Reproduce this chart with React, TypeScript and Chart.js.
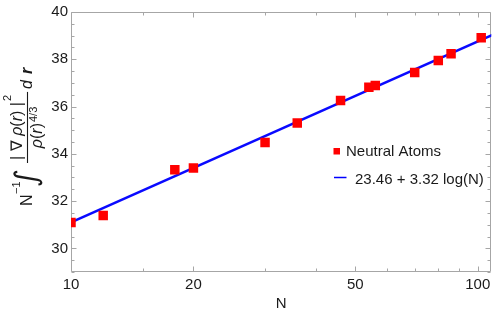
import React, { useEffect, useRef } from "react";
import { Chart, registerables } from "chart.js";
Chart.register(...registerables);

// Neutral atoms: particle number N and the measured integral value
const atomN = [10, 12, 18, 20, 30, 36, 46, 54, 56, 70, 80, 86, 102];
const atomValue = [31.09, 31.39, 33.33, 33.4, 34.48, 35.3, 36.26, 36.82, 36.89, 37.44, 37.95, 38.23, 38.91];

// Fit line 23.46 + 3.32 log(N) — endpoints (straight on a log axis)
const fitN = [10, 110];
const fitValue = [31.1, 39.07];

const xMajorTicks = [10, 20, 50, 100];
const xMinorTicks = [15, 30, 40, 60, 70, 80, 90];
const yMajorTicks = [30, 32, 34, 36, 38, 40];
const yMinorTicks = [29, 29.5, 30.5, 31, 31.5, 32.5, 33, 33.5, 34.5, 35, 35.5, 36.5, 37, 37.5, 38.5, 39, 39.5];

const legendLabels = ["Neutral Atoms", "23.46 + 3.32 log(N)"];

const FONT = '"Liberation Sans", Arial, Helvetica, sans-serif';
const TEXT = "#1a1a1a";
const FRAME = "#a6a6a6";

const framePlugin = {
  id: "frame",
  beforeDatasetsDraw(chart: any) {
    const ctx: CanvasRenderingContext2D = chart.ctx;
    const { left, right, top, bottom } = chart.chartArea;
    const xs = chart.scales.x;
    const ys = chart.scales.y;
    ctx.save();
    ctx.strokeStyle = FRAME;
    ctx.lineWidth = 1;
    const L = Math.round(left) + 0.5;
    const R = Math.round(right) - 0.5;
    const T = Math.round(top) + 0.5;
    const B = Math.round(bottom) - 0.5;
    ctx.beginPath();
    ctx.moveTo(L, T);
    ctx.lineTo(R, T);
    ctx.lineTo(R, B);
    ctx.lineTo(L, B);
    ctx.closePath();
    ctx.stroke();
    ctx.beginPath();
    const xt = (v: number, len: number) => {
      const p = Math.round(xs.getPixelForValue(v)) + 0.5;
      ctx.moveTo(p, B);
      ctx.lineTo(p, B - len);
      ctx.moveTo(p, T);
      ctx.lineTo(p, T + len);
    };
    const yt = (v: number, len: number) => {
      const p = Math.round(ys.getPixelForValue(v)) + 0.5;
      ctx.moveTo(L, p);
      ctx.lineTo(L + len, p);
      ctx.moveTo(R, p);
      ctx.lineTo(R - len, p);
    };
    xMajorTicks.forEach((v) => xt(v, 5));
    xMinorTicks.forEach((v) => xt(v, 3));
    yMajorTicks.forEach((v) => yt(v, 5));
    yMinorTicks.forEach((v) => yt(v, 3));
    ctx.stroke();
    ctx.restore();
  },
};

function w(ctx: CanvasRenderingContext2D, t: string, f: string) {
  ctx.font = f;
  return ctx.measureText(t).width;
}
function put(ctx: CanvasRenderingContext2D, t: string, f: string, u: number, v: number) {
  ctx.font = f;
  ctx.fillText(t, u, v);
  return ctx.measureText(t).width;
}

const textPlugin = {
  id: "texts",
  afterDraw(chart: any) {
    const ctx: CanvasRenderingContext2D = chart.ctx;
    const { left, right } = chart.chartArea;
    ctx.save();
    ctx.fillStyle = TEXT;
    ctx.textBaseline = "alphabetic";
    ctx.textAlign = "left";

    // x title
    ctx.font = `15px ${FONT}`;
    ctx.textAlign = "center";
    ctx.fillText("N", (left + right) / 2, 308);
    ctx.textAlign = "left";

    // legend
    ctx.fillStyle = "#ff0000";
    ctx.fillRect(333.5, 148, 6.5, 6.5);
    ctx.strokeStyle = "#0000ff";
    ctx.lineWidth = 1.5;
    ctx.beginPath();
    ctx.moveTo(334, 177.5);
    ctx.lineTo(346.5, 177.5);
    ctx.stroke();
    ctx.fillStyle = TEXT;
    ctx.font = `15px ${FONT}`;
    ctx.fillText(legendLabels[0], 346, 156);
    ctx.fillText(legendLabels[1], 355, 184);

    // y title (rotated, reads bottom to top)
    ctx.translate(32, 207);
    ctx.rotate(-Math.PI / 2);
    const R16 = `16px ${FONT}`;
    const I16 = `italic 16px ${FONT}`;
    const BI16 = `italic bold 16px ${FONT}`;
    const R11 = `11px ${FONT}`;
    let u = 1;
    u += put(ctx, "N", R16, u, 0);
    u += put(ctx, "−1", R11, u + 0.5, -12) + 2;

    // integral sign, scaled to ~30px tall, centred on the math axis
    const IF = (s: number) => `${s}px "DejaVu Sans", sans-serif`;
    ctx.font = IF(32);
    let m = ctx.measureText("∫");
    const h0 = m.actualBoundingBoxAscent + m.actualBoundingBoxDescent;
    const size = 32 * (30 / (h0 || 30));
    ctx.font = IF(size);
    m = ctx.measureText("∫");
    const axisV = -4.5;
    const base = axisV + (m.actualBoundingBoxAscent - m.actualBoundingBoxDescent) / 2;
    const gw = m.actualBoundingBoxLeft + m.actualBoundingBoxRight;
    ctx.save();
    ctx.translate(21 + m.actualBoundingBoxLeft, base);
    ctx.transform(1, 0, -0.12, 1, 0, 0);
    ctx.fillText("∫", 0, 0);
    ctx.restore();
    u = 21 + gw + 2;

    // fraction
    const gap = 4.5;
    const wBar = w(ctx, "|", R16);
    const wNabla = w(ctx, "∇", R16);
    const wRho = w(ctx, "ρ", I16);
    const wP = w(ctx, "(", R16);
    const wR = w(ctx, "r", I16);
    const wQ = w(ctx, ")", R16);
    const wRhoR = wRho + wP + wR + wQ;
    const wTwo = w(ctx, "2", R11);
    const wNum = wBar + gap + wNabla + gap + wRhoR + gap + wBar + 1 + wTwo;
    const w43 = w(ctx, "4/3", R11);
    const wDen = wRhoR + 1 + w43;
    const barStart = Math.max(u, 44);
    const barLen = Math.max(wNum, wDen) + 6;
    ctx.fillRect(barStart, axisV - 0.55, barLen, 1.1);

    // numerator
    let nu = barStart + (barLen - wNum) / 2;
    const nv = -10.5;
    nu += put(ctx, "|", R16, nu, nv) + gap;
    nu += put(ctx, "∇", R16, nu, nv) + gap;
    nu += put(ctx, "ρ", I16, nu, nv);
    nu += put(ctx, "(", R16, nu, nv);
    nu += put(ctx, "r", I16, nu, nv);
    nu += put(ctx, ")", R16, nu, nv) + gap;
    nu += put(ctx, "|", R16, nu, nv) + 1;
    put(ctx, "2", R11, nu, -21);

    // denominator
    let du = barStart + (barLen - wDen) / 2;
    const dv = 10;
    du += put(ctx, "ρ", I16, du, dv);
    du += put(ctx, "(", R16, du, dv);
    du += put(ctx, "r", I16, du, dv);
    du += put(ctx, ")", R16, du, dv) + 1;
    put(ctx, "4/3", R11, du, 4.5);

    // d r
    u = barStart + barLen + 3;
    u += put(ctx, "d", I16, u, 0) + 6;
    put(ctx, "r", BI16, u, 0);

    ctx.restore();
  },
};

export default function App() {
  const ref = useRef<HTMLCanvasElement>(null);
  useEffect(() => {
    const canvas = ref.current!;
    const chart = new Chart(canvas, {
      type: "scatter",
      data: {
        datasets: [
          {
            type: "line",
            label: legendLabels[1],
            data: fitN.map((x, i) => ({ x, y: fitValue[i] })),
            borderColor: "#0a0aff",
            borderWidth: 2.4,
            pointRadius: 0,
            fill: false,
            order: 2,
          } as any,
          {
            type: "scatter",
            label: legendLabels[0],
            data: atomN.map((x, i) => ({ x, y: atomValue[i] })),
            pointStyle: "rect",
            pointRadius: 6.7,
            pointHoverRadius: 6.7,
            backgroundColor: "#ff0000",
            borderWidth: 0,
            order: 1,
          } as any,
        ],
      },
      options: {
        animation: false,
        responsive: false,
        events: [],
        layout: { padding: { top: 8, right: 3, left: 0, bottom: 0 } },
        plugins: { legend: { display: false }, tooltip: { enabled: false } },
        scales: {
          x: {
            type: "logarithmic",
            min: 10,
            max: 108,
            grid: { display: false, drawTicks: false },
            border: { display: false },
            afterBuildTicks: (s: any) => {
              s.ticks = xMajorTicks.map((v) => ({ value: v }));
            },
            afterFit: (s: any) => {
              s.height = 40;
            },
            ticks: {
              autoSkip: false,
              maxRotation: 0,
              padding: 4,
              color: TEXT,
              font: { family: FONT, size: 15 },
              callback: (v: any) => String(v),
            },
          },
          y: {
            type: "linear",
            min: 29,
            max: 40,
            grid: { display: false, drawTicks: false },
            border: { display: false },
            afterBuildTicks: (s: any) => {
              s.ticks = yMajorTicks.map((v) => ({ value: v }));
            },
            afterFit: (s: any) => {
              s.width = 71;
            },
            ticks: {
              padding: 3,
              color: TEXT,
              font: { family: FONT, size: 15 },
              callback: (v: any) => String(v),
            },
          },
        },
      } as any,
      plugins: [framePlugin, textPlugin],
    });
    return () => chart.destroy();
  }, []);
  return (
    <div style={{ position: "fixed", left: 0, top: 0, width: 498, height: 312, background: "#fff" }}>
      <canvas ref={ref} width={498} height={312} style={{ display: "block", width: 498, height: 312 }} />
    </div>
  );
}
